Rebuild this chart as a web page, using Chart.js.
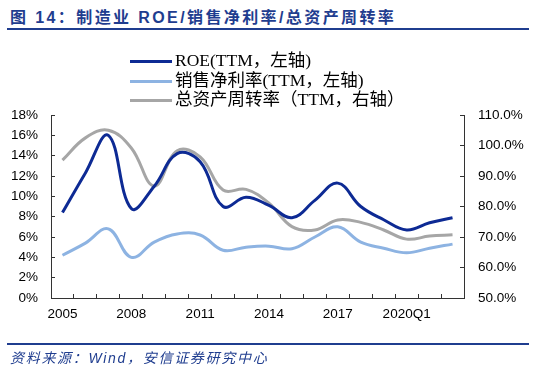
<!DOCTYPE html>
<html lang="zh-CN">
<head>
    <meta charset="UTF-8">
    <title>制造业 ROE/销售净利率/总资产周转率</title>
    <script src="https://cdn.jsdelivr.net/npm/chart.js"></script>
    <style>
        body {
            margin: 0;
            padding: 0;
            background-color: white;
            width: 550px;
            height: 375px;
            position: relative;
            overflow: hidden;
        }
        .title {
            position: absolute;
            left: 10px;
            top: 4px;
            font: bold 16px "Liberation Sans", "Noto Sans CJK SC", sans-serif;
            letter-spacing: 2.4px;
            color: #1f3d8f;
            white-space: nowrap;
        }
        .rule {
            position: absolute;
            left: 7px;
            width: 522px;
            height: 2px;
            background: #1f3d8f;
        }
        .source {
            position: absolute;
            left: 10px;
            top: 347px;
            font: italic 14px "Liberation Sans", "Noto Sans CJK SC", sans-serif;
            letter-spacing: 1.7px;
            color: #1f3d8f;
            white-space: nowrap;
        }
        #legend {
            position: absolute;
            left: 130px;
            top: 51px;
            z-index: 2;
        }
        .row {
            height: 19.5px;
            line-height: 19.5px;
            font-size: 17.5px;
            font-family: "Liberation Serif", "Noto Sans CJK SC", serif;
            color: #000;
            white-space: nowrap;
        }
        .swatch {
            display: inline-block;
            width: 42px;
            height: 3px;
            vertical-align: middle;
            margin-right: 3px;
        }
        #wrap {
            position: absolute;
            left: 0;
            top: 0;
        }
    </style>
</head>
<body>
    <div class="title">图 14：制造业 ROE/销售净利率/总资产周转率</div>
    <div class="rule" style="top: 28px;"></div>
    <div id="legend"></div>
    <div id="wrap"><canvas id="chart" width="550" height="375"></canvas></div>
    <div class="rule" style="top: 343px;"></div>
    <div class="source">资料来源：Wind，安信证券研究中心</div>

    <script>
        // 数据
        const years = ['2005', '2006', '2007', '2008', '2009', '2010', '2011', '2012', '2013', '2014',
                       '2015', '2016', '2017', '2018', '2019', '2020Q1', '2021Q1', '2022Q1'];
        const roe = [8.4, 12.3, 16.0, 8.8, 11.0, 14.2, 13.4, 9.0, 9.9, 9.1, 7.9, 9.6, 11.3, 9.0, 7.7, 6.7, 7.4, 7.9];
        const netMargin = [4.2, 5.4, 6.8, 4.0, 5.5, 6.3, 6.2, 4.7, 5.0, 5.1, 4.85, 6.0, 7.0, 5.5, 4.9, 4.45, 4.9, 5.3];
        const assetTurnover = [95.2, 102.5, 105.0, 99.2, 86.7, 98.3, 96.3, 85.4, 85.6, 81.1, 73.4, 72.3, 75.6, 74.8, 72.3, 69.3, 70.3, 70.7];
        const shownYears = ['2005', '2008', '2011', '2014', '2017', '2020Q1'];

        const axisColor = '#333';
        const tickFont = { family: '"Liberation Sans", Arial, sans-serif', size: 13.5 };

        const chart = new Chart(document.getElementById('chart').getContext('2d'), {
            type: 'line',
            data: {
                labels: years,
                datasets: [
                    {
                        label: 'ROE(TTM，左轴)',
                        data: roe,
                        borderColor: '#0d2a94',
                        borderWidth: 3,
                        tension: 0.4,
                        pointRadius: 0,
                        yAxisID: 'y'
                    },
                    {
                        label: '销售净利率(TTM，左轴)',
                        data: netMargin,
                        borderColor: '#8db3e2',
                        borderWidth: 3,
                        tension: 0.4,
                        pointRadius: 0,
                        yAxisID: 'y'
                    },
                    {
                        label: '总资产周转率（TTM，右轴）',
                        data: assetTurnover,
                        borderColor: '#a6a6a6',
                        borderWidth: 3,
                        tension: 0.4,
                        pointRadius: 0,
                        yAxisID: 'y1'
                    }
                ]
            },
            options: {
                responsive: false,
                animation: false,
                layout: { padding: { top: 115, bottom: 47, left: 0, right: 0 } },
                plugins: {
                    legend: { display: false },
                    tooltip: { enabled: false }
                },
                scales: {
                    x: {
                        offset: true,
                        grid: { offset: true, drawOnChartArea: false, tickLength: -4, color: axisColor },
                        border: { color: axisColor },
                        ticks: {
                            autoSkip: false,
                            maxRotation: 0,
                            padding: 12,
                            color: '#000',
                            font: tickFont,
                            callback: function (v, i) {
                                const lab = years[i];
                                return shownYears.includes(lab) ? lab : '';
                            }
                        },
                        afterFit: function (s) { s.height = 30; }
                    },
                    y: {
                        position: 'left',
                        min: 0,
                        max: 18,
                        grid: { drawOnChartArea: false, tickLength: -4, color: axisColor },
                        border: { color: axisColor },
                        ticks: {
                            stepSize: 2,
                            padding: 17,
                            color: '#000',
                            font: tickFont,
                            callback: v => v + '%'
                        },
                        afterFit: function (s) { s.width = 51; }
                    },
                    y1: {
                        position: 'right',
                        min: 50,
                        max: 110,
                        grid: { drawOnChartArea: false, tickLength: -4, color: axisColor },
                        border: { color: axisColor },
                        ticks: {
                            stepSize: 10,
                            padding: 18,
                            color: '#000',
                            font: tickFont,
                            callback: v => v.toFixed(1) + '%'
                        },
                        afterFit: function (s) { s.width = 86; }
                    }
                }
            }
        });

        // 图例
        const legend = document.getElementById('legend');
        chart.data.datasets.forEach(ds => {
            const row = document.createElement('div');
            row.className = 'row';
            const sw = document.createElement('span');
            sw.className = 'swatch';
            sw.style.background = ds.borderColor;
            row.appendChild(sw);
            row.appendChild(document.createTextNode(ds.label));
            legend.appendChild(row);
        });
    </script>
</body>
</html>
